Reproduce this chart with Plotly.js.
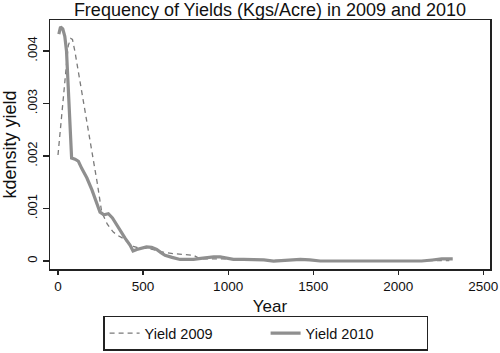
<!DOCTYPE html>
<html>
<head>
<meta charset="utf-8">
<script src="https://cdn.plot.ly/plotly-3.0.1.min.js"></script>
<style>html,body{margin:0;padding:0;background:#fff;}#chart{width:500px;height:353px;}</style>
</head>
<body>
<div id="chart"></div>
<script>
// Yield 2009 (dashed)
var x2009 = [0, 20, 40, 60, 75, 85, 100, 130, 160, 200, 230, 257, 290, 325, 355, 384, 410, 443, 480, 530, 580, 630, 680, 718, 760, 796, 835, 880, 933, 1000, 1100, 1200, 1300, 1450, 1600, 1800, 2000, 2200, 2300];
var y2009 = [0.00202, 0.00275, 0.00352, 0.00410, 0.00424, 0.00422, 0.00398, 0.00343, 0.00285, 0.00207, 0.00150, 0.00093, 0.00070, 0.00055, 0.00048, 0.00043, 0.00036, 0.00028, 0.00024, 0.00024, 0.00020, 0.00016, 0.00014, 0.00013, 0.00012, 0.00011, 0.00004, 0.00004, 0.00005, 0.00004, 0.00002, 0.00001, 0.00001, 0.00002, 0.00000, 0.00000, 0.00000, 0.00000, 0.00001];
// Yield 2010 (solid)
var x2010 = [5, 15, 28, 40, 50, 60, 70, 80, 100, 120, 140, 170, 200, 225, 247, 270, 296, 320, 345, 365, 395, 424, 441, 463, 490, 520, 550, 580, 605, 629, 670, 718, 760, 796, 840, 875, 915, 953, 990, 1031, 1090, 1149, 1210, 1267, 1340, 1424, 1480, 1541, 1650, 1800, 1950, 2050, 2137, 2200, 2255, 2320];
var y2010 = [0.00432, 0.00446, 0.00442, 0.00428, 0.00400, 0.00330, 0.00260, 0.00196, 0.00194, 0.00190, 0.00176, 0.00158, 0.00135, 0.00112, 0.00093, 0.00088, 0.00090, 0.00082, 0.00068, 0.00058, 0.00043, 0.00030, 0.00019, 0.00022, 0.00025, 0.00027, 0.00026, 0.00022, 0.00016, 0.00011, 0.00007, 0.00003, 0.00003, 0.00003, 0.00005, 0.00007, 0.00008, 0.00008, 0.00006, 0.00003, 0.00003, 0.00003, 0.00002, 0.00000, 0.00001, 0.00003, 0.00002, 0.00000, 0.00000, 0.00000, 0.00000, 0.00000, 0.00000, 0.00002, 0.00004, 0.00004];
var xTicks = [0, 500, 1000, 1500, 2000, 2500];
var xTickText = ['0', '500', '1000', '1500', '2000', '2500'];
var yTicks = [0, 0.001, 0.002, 0.003, 0.004];
var yTickText = ['0', '.001', '.002', '.003', '.004'];
var seriesNames = ['Yield 2009', 'Yield 2010'];

var font = 'Liberation Sans, Arial, Helvetica, sans-serif';
var traces = [
  {x: x2009, y: y2009, name: seriesNames[0], type: 'scatter', mode: 'lines',
   line: {color: '#7a7a7a', width: 1.3, dash: '5px,4px'}},
  {x: x2010, y: y2010, name: seriesNames[1], type: 'scatter', mode: 'lines',
   line: {color: '#8f8f8f', width: 3.2}}
];
var layout = {
  width: 500, height: 353,
  margin: {l: 50, r: 10, t: 20, b: 84, autoexpand: false},
  paper_bgcolor: '#fff', plot_bgcolor: '#fff',
  font: {family: font, color: '#111', size: 13},
  title: {text: 'Frequency of Yields (Kgs/Acre) in 2009 and 2010', font: {size: 18, family: font, color: '#111'},
          x: 0.54, xanchor: 'center', y: 0.972, yanchor: 'middle', yref: 'container'},
  xaxis: {range: [-47, 2539], tickvals: xTicks, ticktext: xTickText, ticks: 'outside', ticklen: 4,
          tickcolor: '#222', tickwidth: 1.2, showline: true, mirror: true, linecolor: '#222', linewidth: 1.5,
          showgrid: false, zeroline: false, tickfont: {size: 13.5}, automargin: false,
          title: {text: 'Year', font: {size: 17}, standoff: 7}},
  yaxis: {range: [-0.000152, 0.00459], tickvals: yTicks, ticktext: yTickText, ticks: 'outside', ticklen: 6,
          tickcolor: '#222', tickwidth: 1.2, showline: true, mirror: true, linecolor: '#222', linewidth: 1.5,
          showgrid: false, zeroline: false, tickangle: -90, tickfont: {size: 13}, automargin: false,
          title: {text: 'kdensity yield', font: {size: 18}, standoff: 4}},
  showlegend: true,
  legend: {orientation: 'h', x: 0.49, xanchor: 'center', y: -0.328, yanchor: 'bottom',
           bordercolor: '#222', borderwidth: 1.5, font: {size: 14.5}, entrywidth: 116,
           bgcolor: '#fff'}
};
Plotly.newPlot('chart', traces, layout, {displayModeBar: false, staticPlot: true});
</script>
</body>
</html>
